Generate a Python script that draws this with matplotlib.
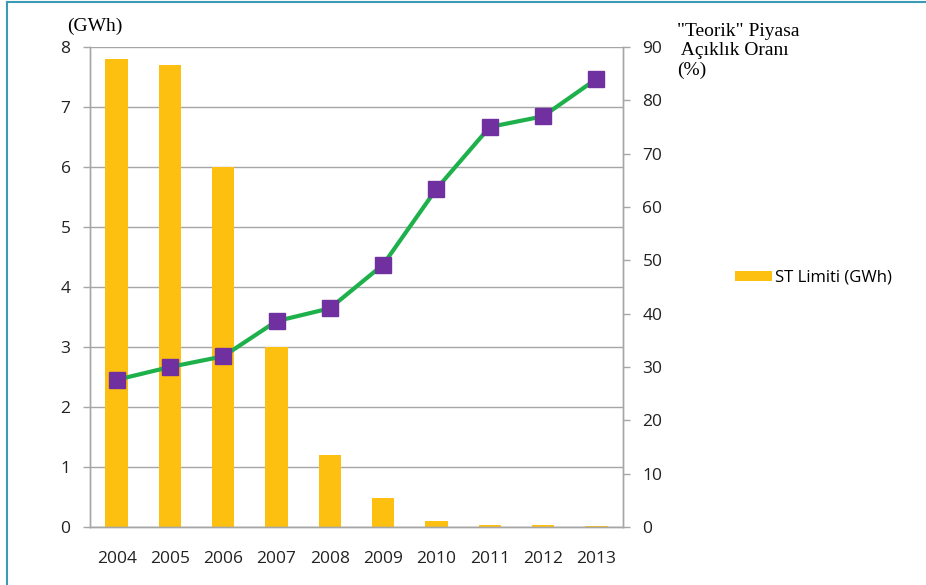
import matplotlib.pyplot as plt
from matplotlib.lines import Line2D
import numpy as np

years = ['2004', '2005', '2006', '2007', '2008', '2009', '2010', '2011', '2012', '2013']
st_limit = [7.8, 7.7, 6.0, 3.0, 1.2, 0.48, 0.1, 0.04, 0.03, 0.01]
open_ratio = [27.6, 30, 32, 38.6, 41, 49.2, 63.4, 75, 77, 84]

bar_color = '#FDC010'
line_color = '#1EB14B'
marker_color = '#7030A0'
grid_color = '#A6A6A6'
sans = 'Open Sans'
serif = 'Liberation Serif'

fig = plt.figure(figsize=(9.26, 5.85), dpi=100)
ax = fig.add_axes([0.0972, 0.0991, 0.5756, 0.8206])
ax2 = ax.twinx()

x = np.arange(len(years))
bars = ax.bar(x, st_limit, width=0.42, color=bar_color, zorder=2, label='ST Limiti (GWh)')
ax2.plot(x, open_ratio, color=line_color, lw=3, marker='s', ms=11,
         markerfacecolor=marker_color, markeredgecolor=marker_color, zorder=3)

ax.set_xlim(-0.5, len(years) - 0.5)
ax.set_ylim(0, 8)
ax2.set_ylim(0, 90)
ax.set_yticks(range(0, 9))
ax2.set_yticks(range(0, 91, 10))
ax.set_xticks(x)
ax.set_xticklabels(years)

ax.yaxis.grid(True, color=grid_color, lw=1, zorder=0)
ax.set_axisbelow(True)

for a in (ax, ax2):
    a.spines['top'].set_visible(False)
    for s in ('left', 'right', 'bottom'):
        a.spines[s].set_color(grid_color)
        a.spines[s].set_linewidth(1)
    a.tick_params(axis='y', colors=grid_color, length=5, width=1, labelsize=12.5,
                  labelcolor='#222222', pad=9)
    for lab in a.get_yticklabels():
        lab.set_family(sans)
ax.tick_params(axis='x', length=0, labelsize=12.5, labelcolor='#222222', pad=17)
for lab in ax.get_xticklabels():
    lab.set_family(sans)

fig.text(0.072, 0.94, '(GWh)', family=serif, fontsize=14, ha='left', va='bottom')
fig.text(0.731, 0.96, '"Teorik" Piyasa\n Açıklık Oranı\n(%)', family=serif, fontsize=14,
         ha='left', va='top', linespacing=1.15)

fig.legend(handles=[bars], loc='center left', bbox_to_anchor=(0.778, 0.525), frameon=False,
           prop={'family': sans, 'size': 12}, handlelength=2.2, handleheight=0.6,
           handletextpad=0.2)

# frame lines of the box around the figure
fig.add_artist(Line2D([0.0076, 0.0076], [0, 0.997], transform=fig.transFigure,
                      color='#3B9BB5', lw=1.5))
fig.add_artist(Line2D([0.0076, 1], [0.997, 0.997], transform=fig.transFigure,
                      color='#3B9BB5', lw=1.5))

fig.savefig('out.png', dpi=100)
